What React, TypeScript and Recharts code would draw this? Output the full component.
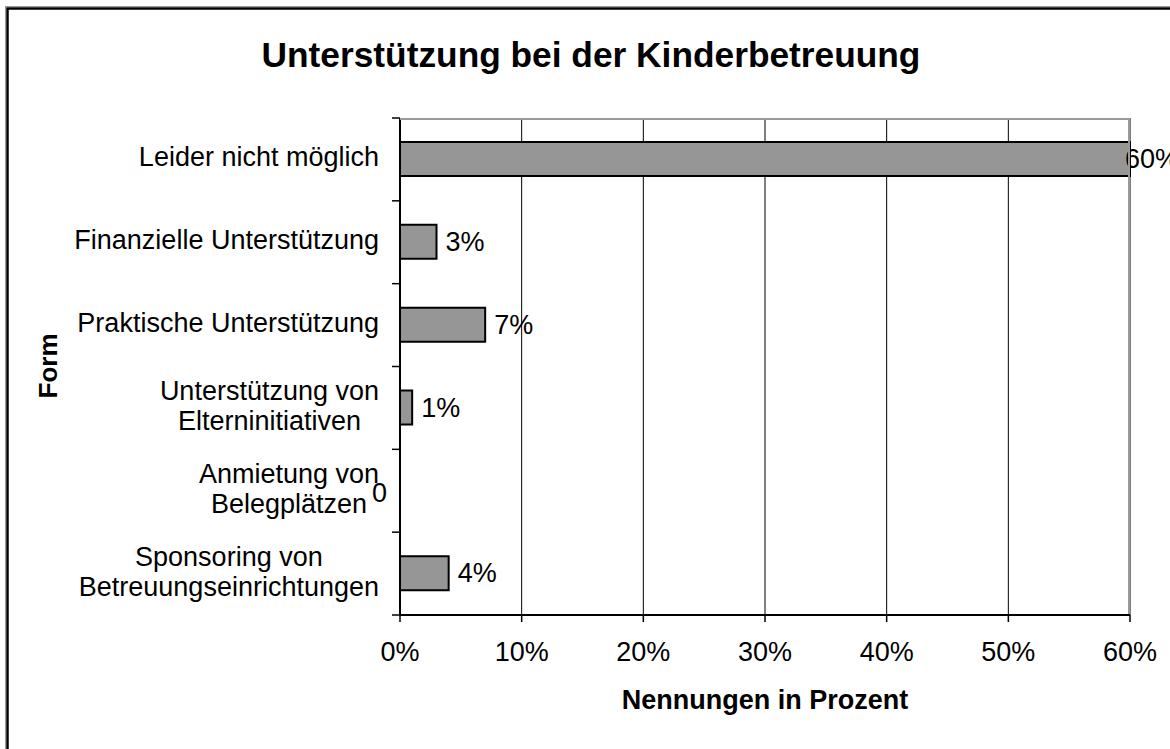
import React from 'react';
import { BarChart, Bar, XAxis, YAxis, CartesianGrid, LabelList, Cell } from 'recharts';

// Data
const categories = [
  'Leider nicht möglich',
  'Finanzielle Unterstützung',
  'Praktische Unterstützung',
  'Unterstützung von\nElterninitiativen',
  'Anmietung von\nBelegplätzen',
  'Sponsoring von\nBetreuungseinrichtungen',
];
const values = [60, 3, 7, 1, 0, 4];
const valueLabels = ['60%', '3%', '7%', '1%', '0', '4%'];
const xTicks = [0, 10, 20, 30, 40, 50, 60];

const data = categories.map((name, i) => ({ name, value: values[i] }));

// Layout
const WIDTH = 1170;
const HEIGHT = 749;
const PLOT_LEFT = 400;
const PLOT_RIGHT = 1130;
const PLOT_TOP = 118;
const PLOT_BOTTOM = 615;
const X_MAX = 60;
const Y_TICK_SIZE = 8;
const Y_TICK_MARGIN = 13;
const BAND = (PLOT_BOTTOM - PLOT_TOP) / categories.length;
const FONT = '"Liberation Sans", Arial, sans-serif';
const FONT_SIZE = 27;
const LINE_HEIGHT = 30;

const ctx = typeof document !== 'undefined' ? document.createElement('canvas').getContext('2d') : null;
const measure = (s: string) => {
  if (!ctx) return s.length * 13;
  ctx.font = `${FONT_SIZE}px ${FONT}`;
  return ctx.measureText(s).width;
};

// category label, centred block, plus tick marks on the band edges
const CategoryTick = (props: any) => {
  const { x, y, payload, index } = props;
  const lines = String(payload.value).split('\n');
  const maxW = Math.max(...lines.map(measure));
  const cx = x - maxW / 2;
  const lineX1 = x + Y_TICK_MARGIN;
  const lineX2 = lineX1 + Y_TICK_SIZE;
  return (
    <g>
      {lines.map((l, i) => (
        <text
          key={i}
          x={cx}
          y={y + (i - (lines.length - 1) / 2) * LINE_HEIGHT - 2}
          textAnchor="middle"
          dominantBaseline="central"
          fontSize={FONT_SIZE}
          fill="#000"
        >
          {l}
        </text>
      ))}
      <line x1={lineX1} x2={lineX2} y1={y - BAND / 2} y2={y - BAND / 2} stroke="#000" strokeWidth={1.5} />
      {index === categories.length - 1 && (
        <line x1={lineX1} x2={lineX2} y1={y + BAND / 2} y2={y + BAND / 2} stroke="#000" strokeWidth={1.5} />
      )}
    </g>
  );
};

const renderValueLabel = (props: any) => {
  const { x, y, width, height, value } = props;
  const v = Number(value);
  const idx = values.indexOf(v);
  const text = idx >= 0 ? valueLabels[idx] : `${v}%`;
  const cy = Number(y) + Number(height) / 2;
  if (v === 0) {
    return (
      <text x={Number(x) - 13} y={cy + 3} textAnchor="end" dominantBaseline="central" fontSize={FONT_SIZE} fill="#000">
        {text}
      </text>
    );
  }
  const dx = v >= X_MAX ? -5 : 9;
  return (
    <text x={Number(x) + Number(width) + dx} y={cy} dominantBaseline="central" fontSize={FONT_SIZE} fill="#000">
      {text}
    </text>
  );
};

const App: React.FC = () => {
  return (
    <div style={{ position: 'relative', width: WIDTH, height: HEIGHT, background: '#fff', fontFamily: FONT, overflow: 'hidden' }}>
      <style>{'body{margin:0}'}</style>
      <BarChart
        layout="vertical"
        width={WIDTH}
        height={HEIGHT}
        data={data}
        margin={{ top: PLOT_TOP, right: WIDTH - PLOT_RIGHT, bottom: HEIGHT - PLOT_BOTTOM - 60, left: 0 }}
      >
        <CartesianGrid horizontal={false} vertical stroke="#000" strokeWidth={1} />
        <XAxis
          type="number"
          domain={[0, X_MAX]}
          ticks={xTicks}
          interval={0}
          height={60}
          tickFormatter={(v) => `${v}%`}
          axisLine={{ stroke: '#000', strokeWidth: 2 }}
          tickLine={{ stroke: '#000', strokeWidth: 1.5 }}
          tickSize={7}
          tickMargin={20}
          tick={{ fontSize: FONT_SIZE, fill: '#000', fontFamily: FONT }}
        />
        <YAxis
          type="category"
          dataKey="name"
          width={PLOT_LEFT}
          interval={0}
          axisLine={{ stroke: '#000', strokeWidth: 2 }}
          tickLine={false}
          tickSize={Y_TICK_SIZE}
          tickMargin={Y_TICK_MARGIN}
          tick={<CategoryTick />}
        />
        <Bar dataKey="value" fill="#969696" stroke="#000" strokeWidth={2} barSize={34} minPointSize={1} isAnimationActive={false}>
          {data.map((d, i) => (
            <Cell key={i} fill={d.value === 0 ? 'transparent' : '#969696'} stroke={d.value === 0 ? 'none' : '#000'} />
          ))}
          <LabelList dataKey="value" content={renderValueLabel} />
        </Bar>
      </BarChart>
      <svg
        width={WIDTH}
        height={HEIGHT}
        style={{ position: 'absolute', left: 0, top: 0, pointerEvents: 'none' }}
      >
        {/* outer frame */}
        <rect x={5.5} y={6.5} width={1300} height={900} fill="none" stroke="#999" strokeWidth={1} />
        <rect x={7.5} y={8.5} width={1300} height={900} fill="none" stroke="#000" strokeWidth={2.5} />
        {/* plot border top / right */}
        <line x1={PLOT_LEFT} x2={PLOT_RIGHT} y1={PLOT_TOP + 1} y2={PLOT_TOP + 1} stroke="#999" strokeWidth={2} />
        <line x1={PLOT_RIGHT - 1} x2={PLOT_RIGHT - 1} y1={PLOT_TOP} y2={PLOT_BOTTOM - 1} stroke="#999" strokeWidth={2} />
        <text x={591} y={67} textAnchor="middle" fontSize={35.3} fontWeight="bold" fill="#000">
          Unterstützung bei der Kinderbetreuung
        </text>
        <text x={765} y={709} textAnchor="middle" fontSize={27} fontWeight="bold" fill="#000">
          Nennungen in Prozent
        </text>
        <text x={57} y={366} textAnchor="middle" fontSize={26} fontWeight="bold" fill="#000" transform="rotate(-90 57 366)">
          Form
        </text>
      </svg>
    </div>
  );
};

export default App;
